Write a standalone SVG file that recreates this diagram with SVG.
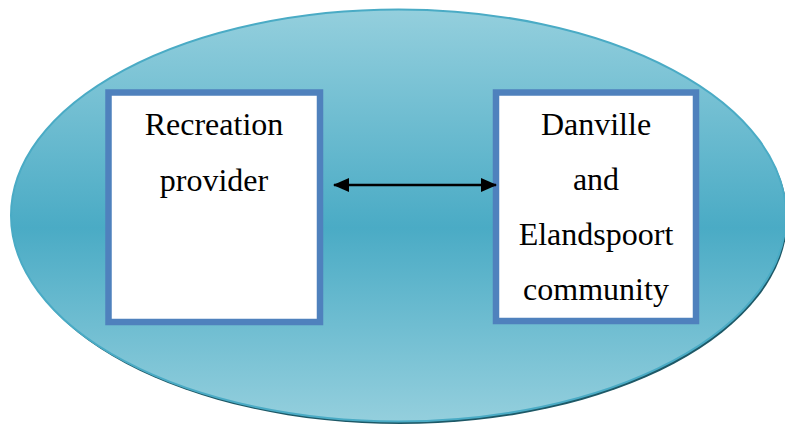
<svg xmlns="http://www.w3.org/2000/svg" width="785" height="425" viewBox="0 0 785 425">
  <defs>
    <linearGradient id="bg" x1="0" y1="0" x2="0" y2="1">
      <stop offset="0" stop-color="#94cfdd"/>
      <stop offset="0.53" stop-color="#4aabc5"/>
      <stop offset="1" stop-color="#94cfdd"/>
    </linearGradient>
    <marker id="ah" viewBox="0 0 16 14" refX="15" refY="7" markerWidth="16" markerHeight="14" markerUnits="userSpaceOnUse" orient="auto-start-reverse">
      <path d="M0,0 L16,7 L0,14 Z" fill="#000"/>
    </marker>
  </defs>
  <style>
    .box { fill: #ffffff; stroke: #4f81bd; stroke-width: 6.5; }
    .lbl { font-family: "Liberation Serif", "Times New Roman", serif; font-size: 32px; fill: #000; text-anchor: middle; }
    .conn { stroke: #000; stroke-width: 2.5; fill: none; }
  </style>
  <g id="background">
    <ellipse cx="400" cy="218" rx="387.5" ry="206" fill="#1d5866"/>
    <ellipse cx="398.5" cy="215.5" rx="387.5" ry="206" fill="url(#bg)" stroke="#4aabc5" stroke-width="2"/>
  </g>
  <g id="recreation-provider">
    <rect class="box" x="108.5" y="92.5" width="211.5" height="229.5"/>
    <text class="lbl" x="214" y="135">Recreation</text>
    <text class="lbl" x="214" y="191">provider</text>
  </g>
  <g id="community">
    <rect class="box" x="496" y="92.5" width="200" height="228.5"/>
    <text class="lbl" x="596" y="135">Danville</text>
    <text class="lbl" x="596" y="190">and</text>
    <text class="lbl" x="596" y="245">Elandspoort</text>
    <text class="lbl" x="596" y="300">community</text>
  </g>
  <g id="connectors">
    <line class="conn" x1="334" y1="185" x2="496" y2="185" marker-start="url(#ah)" marker-end="url(#ah)"/>
  </g>
</svg>
